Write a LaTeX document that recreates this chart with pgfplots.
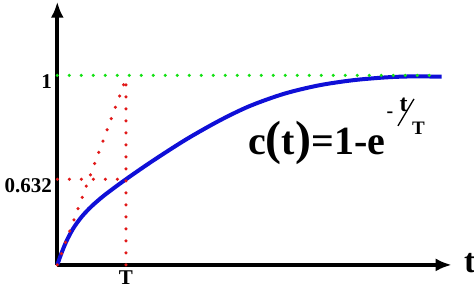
\documentclass[border=0pt]{standalone}
\usepackage{pgfplots}
\pgfplotsset{compat=1.18}
\usetikzlibrary{arrows.meta}
\usepackage{fontspec}
\setmainfont{Liberation Serif}
\definecolor{cblue}{RGB}{15,15,215}
\definecolor{cred}{RGB}{225,25,25}
\definecolor{cgreen}{RGB}{20,225,20}
\begin{document}
\begin{tikzpicture}
\begin{axis}[
  x=68.7pt, y=189.5pt,
  xmin=0, xmax=5.741, ymin=0, ymax=1.389,
  axis lines=left,
  axis line style={line width=4pt, -{Latex[length=16pt,width=13pt]}},
  xtick={1}, xticklabels={T},
  ytick={0.452,1}, yticklabels={0.632,1},
  major tick length=0pt, tick style={draw=none},
  ticklabel style={font=\fontsize{21}{21}\selectfont\bfseries},
  yticklabel style={xshift=-2pt,yshift=-6pt},
  xticklabel style={yshift=-2pt},
  clip=false,
  reddot/.style={cred, line width=3.5pt, line cap=round, dash pattern=on 0pt off 12pt},
]
\addplot[cblue, line width=4pt, smooth, tension=0.5] coordinates {
 (0,0) (0.064,0.065) (0.137,0.128) (0.233,0.193) (0.355,0.254) (0.501,0.310)
 (0.694,0.370) (1.0,0.452) (1.397,0.551) (1.884,0.664) (2.368,0.763)
 (2.805,0.839) (3.3,0.903) (3.8,0.947) (4.3,0.9745) (4.8,0.990)
 (5.2,0.995) (5.595,0.993)};
\addplot[reddot] coordinates {(0,0) (1.025,1.008)};
\addplot[reddot] coordinates {(1,0) (1,1)};
\addplot[reddot] coordinates {(0,0.452) (1,0.452)};
\addplot[cgreen, line width=3.5pt, line cap=round, dash pattern=on 0pt off 12pt] coordinates {(0,1) (5.43,1)};
\node[anchor=base west, inner sep=0pt] at (axis cs:5.92,-0.042) {\fontsize{34}{34}\selectfont\bfseries t};
\node[anchor=base west, inner sep=0pt] at (axis cs:2.776,0.5805) {\fontsize{40}{40}\selectfont\bfseries c{\fontsize{48}{48}\selectfont(}t{\fontsize{48}{48}\selectfont)}=1-e};
\node[inner sep=0pt] at (axis cs:4.843,0.7916) {\fontsize{20}{20}\selectfont\bfseries -};
\node[anchor=base, inner sep=0pt] at (axis cs:5.04,0.807) {\fontsize{24}{24}\selectfont\bfseries t};
\draw[line width=1.3pt] (axis cs:4.959,0.7335) -- (axis cs:5.192,0.876);
\node[anchor=base, inner sep=0pt] at (axis cs:5.258,0.686) {\fontsize{19}{19}\selectfont\bfseries T};
\coordinate (bl) at (axis cs:-0.834,-0.169);
\coordinate (tr) at (axis cs:6.066,1.398);
\end{axis}
\pgfresetboundingbox
\path (bl) rectangle (tr);
\end{tikzpicture}
\end{document}
